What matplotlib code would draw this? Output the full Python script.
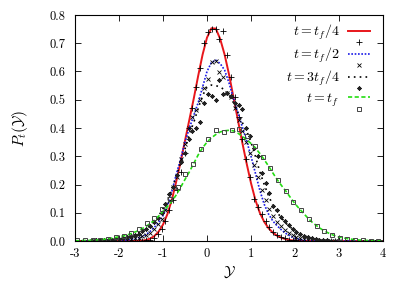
import numpy as np
import matplotlib
matplotlib.use('Agg')
from matplotlib import pyplot as plt
from matplotlib.ticker import FormatStrFormatter, MultipleLocator

plt.rcParams['font.family'] = 'cmr10'
plt.rcParams['mathtext.fontset'] = 'cm'
plt.rcParams['axes.unicode_minus'] = False
plt.rcParams['axes.formatter.use_mathtext'] = False

# x grid of the smooth curves
y_line = [-3.0, -2.9, -2.8, -2.7, -2.6, -2.5, -2.4, -2.3, -2.2, -2.1,
          -2.0, -1.9, -1.8, -1.7, -1.6, -1.5, -1.4, -1.3, -1.2, -1.1,
          -1.0, -0.9, -0.8, -0.7, -0.6, -0.5, -0.4, -0.3, -0.2, -0.1,
          0.0, 0.1, 0.2, 0.3, 0.4, 0.5, 0.6, 0.7, 0.8, 0.9,
          1.0, 1.1, 1.2, 1.3, 1.4, 1.5, 1.6, 1.7, 1.8, 1.9,
          2.0, 2.1, 2.2, 2.3, 2.4, 2.5, 2.6, 2.7, 2.8, 2.9,
          3.0, 3.1, 3.2, 3.3, 3.4, 3.5, 3.6, 3.7, 3.8, 3.9, 4.0]

p_quarter = [0, 0, 0, 0, 0, 0, 0, 0, 0, 0,
             0, 0, 0, 0, 0.0, 0.001, 0.003, 0.008, 0.017, 0.033,
             0.058, 0.095, 0.145, 0.21, 0.28, 0.355, 0.43, 0.505, 0.585, 0.66,
             0.72, 0.753, 0.752, 0.715, 0.66, 0.59, 0.51, 0.43, 0.35, 0.275,
             0.205, 0.145, 0.10, 0.068, 0.045, 0.029, 0.018, 0.011, 0.006, 0.003,
             0.001, 0, 0, 0, 0, 0, 0, 0, 0, 0,
             0, 0, 0, 0, 0, 0, 0, 0, 0, 0, 0]

p_half = [0, 0, 0, 0, 0, 0, 0.0, 0.0, 0.001, 0.001,
          0.001, 0.002, 0.004, 0.007, 0.010, 0.014, 0.021, 0.033, 0.048, 0.066,
          0.09, 0.125, 0.175, 0.235, 0.29, 0.35, 0.40, 0.445, 0.49, 0.545,
          0.60, 0.632, 0.64, 0.628, 0.605, 0.56, 0.505, 0.455, 0.405, 0.355,
          0.30, 0.24, 0.18, 0.13, 0.095, 0.07, 0.053, 0.038, 0.026, 0.017,
          0.010, 0.006, 0.003, 0.002, 0.001, 0, 0, 0, 0, 0,
          0, 0, 0, 0, 0, 0, 0, 0, 0, 0, 0]

p_3quarter = [0, 0, 0.001, 0.001, 0.002, 0.002, 0.003, 0.004, 0.005, 0.007,
              0.009, 0.011, 0.014, 0.019, 0.025, 0.033, 0.042, 0.053, 0.068, 0.088,
              0.115, 0.145, 0.18, 0.23, 0.275, 0.325, 0.38, 0.42, 0.47, 0.515,
              0.545, 0.552, 0.55, 0.545, 0.535, 0.515, 0.49, 0.455, 0.42, 0.39,
              0.35, 0.30, 0.245, 0.20, 0.16, 0.125, 0.10, 0.08, 0.062, 0.048,
              0.036, 0.027, 0.019, 0.013, 0.008, 0.005, 0.003, 0.002, 0.001, 0,
              0, 0, 0, 0, 0, 0, 0, 0, 0, 0, 0]

p_final = [0.001, 0.001, 0.002, 0.002, 0.003, 0.004, 0.005, 0.007, 0.009, 0.012,
           0.015, 0.018, 0.022, 0.028, 0.034, 0.042, 0.05, 0.061, 0.073, 0.088,
           0.105, 0.122, 0.14, 0.163, 0.19, 0.218, 0.245, 0.275, 0.305, 0.33,
           0.35, 0.365, 0.377, 0.386, 0.39, 0.392, 0.39, 0.382, 0.371, 0.359,
           0.345, 0.329, 0.31, 0.288, 0.265, 0.24, 0.216, 0.195, 0.175, 0.153,
           0.132, 0.114, 0.097, 0.08, 0.065, 0.053, 0.042, 0.033, 0.025, 0.019,
           0.014, 0.011, 0.008, 0.006, 0.004, 0.003, 0.002, 0.002, 0.001, 0.001, 0.0]

# histogram bin centres (fine bins for +, x, *)
y_fine = [-2.606, -2.519, -2.431, -2.344, -2.256, -2.169, -2.081, -1.994, -1.906, -1.819,
          -1.731, -1.644, -1.556, -1.469, -1.381, -1.294, -1.206, -1.119, -1.031, -0.944,
          -0.856, -0.769, -0.681, -0.594, -0.506, -0.419, -0.331, -0.244, -0.156, -0.069,
          0.019, 0.106, 0.194, 0.281, 0.369, 0.456, 0.544, 0.631, 0.719, 0.806,
          0.894, 0.981, 1.069, 1.156, 1.244, 1.331, 1.419, 1.506, 1.594, 1.681,
          1.769, 1.856, 1.944, 2.031, 2.119, 2.206, 2.294, 2.381, 2.469, 2.556,
          2.644, 2.731, 2.819, 2.906, 2.994]

h_quarter = [0, 0, 0, 0, 0, 0, 0, 0, 0, 0,
             0, 0, 0.0, 0.001, 0.002, 0.005, 0.012, 0.024, 0.042, 0.07,
             0.11, 0.145, 0.18, 0.245, 0.31, 0.40, 0.47, 0.545, 0.611, 0.70,
             0.741, 0.749, 0.752, 0.714, 0.745, 0.658, 0.58, 0.51, 0.44, 0.36,
             0.29, 0.225, 0.149, 0.119, 0.095, 0.07, 0.048, 0.032, 0.022, 0.014,
             0.009, 0.005, 0.003, 0.002, 0.001, 0, 0, 0, 0, 0,
             0, 0, 0, 0, 0]

h_half = [0.0, 0.0, 0.001, 0.0, 0.001, 0.001, 0.002, 0.002, 0.003, 0.005,
          0.006, 0.009, 0.012, 0.016, 0.022, 0.03, 0.042, 0.06, 0.078, 0.11,
          0.14, 0.19, 0.225, 0.29, 0.345, 0.40, 0.44, 0.465, 0.50, 0.54,
          0.575, 0.635, 0.638, 0.60, 0.58, 0.525, 0.51, 0.47, 0.43, 0.39,
          0.35, 0.31, 0.27, 0.225, 0.18, 0.145, 0.115, 0.09, 0.068, 0.052,
          0.039, 0.028, 0.02, 0.014, 0.01, 0.007, 0.005, 0.003, 0.002, 0.001,
          0, 0, 0, 0, 0]

h_3quarter = [0.001, 0.002, 0.002, 0.003, 0.004, 0.005, 0.007, 0.008, 0.01, 0.013,
              0.016, 0.021, 0.026, 0.035, 0.042, 0.052, 0.066, 0.083, 0.10, 0.13,
              0.165, 0.19, 0.235, 0.28, 0.31, 0.36, 0.39, 0.40, 0.42, 0.487,
              0.52, 0.513, 0.50, 0.57, 0.52, 0.525, 0.515, 0.49, 0.48, 0.466,
              0.40, 0.37, 0.33, 0.30, 0.24, 0.205, 0.17, 0.125, 0.11, 0.085,
              0.07, 0.056, 0.042, 0.032, 0.024, 0.018, 0.013, 0.009, 0.006, 0.004,
              0.003, 0.002, 0.001, 0.001, 0.0]

# coarse bins for the final time
y_coarse = [-2.950, -2.775, -2.599, -2.424, -2.248, -2.073, -1.897, -1.722, -1.546, -1.371,
            -1.195, -1.020, -0.844, -0.669, -0.493, -0.318, -0.142, 0.034, 0.209, 0.385,
            0.560, 0.736, 0.911, 1.087, 1.262, 1.438, 1.613, 1.789, 1.964, 2.140,
            2.315, 2.491, 2.666, 2.842, 3.017, 3.193, 3.368, 3.544, 3.719, 3.895]

h_final = [0.002, 0.002, 0.003, 0.005, 0.007, 0.013, 0.019, 0.029, 0.044, 0.063,
           0.083, 0.112, 0.148, 0.19, 0.236, 0.272, 0.325, 0.361, 0.392, 0.386,
           0.394, 0.398, 0.370, 0.336, 0.298, 0.258, 0.216, 0.178, 0.139, 0.108,
           0.077, 0.053, 0.036, 0.021, 0.012, 0.007, 0.004, 0.002, 0.001, 0.001]

fig = plt.figure(figsize=(4.02, 2.82), dpi=100)
ax = fig.add_axes([75 / 402, 1 - 241 / 282, 308 / 402, 226 / 282])

ax.plot(y_line, p_quarter, color='#e8161b', lw=1.4, label=r'$t = t_f/4$')
ax.plot(y_fine, h_quarter, ls='none', marker='+', ms=4, mew=0.6, color='black', label=' ')
ax.plot(y_line, p_half, color='#1a1ae6', lw=1.2, ls=(0, (1, 1)), label=r'$t = t_f/2$')
ax.plot(y_fine, h_half, ls='none', marker='x', ms=3.2, mew=0.6, color='black', label=' ')
ax.plot(y_line, p_3quarter, color='black', lw=1.2, ls=(0, (1, 2.5)), label=r'$t = 3t_f/4$')
ax.plot(y_fine, h_3quarter, ls='none', marker=(8, 2, 0), ms=3, mew=0.6, color='#222222',
        label=' ')
ax.plot(y_line, p_final, color='#22dd11', lw=1.2, ls=(0, (2.5, 1.5)), label=r'$t = t_f$')
ax.plot(y_coarse, h_final, ls='none', marker='s', ms=3.5, mew=0.7, mfc='none',
        mec='#444444', label=' ')

ax.set_xlim(-3, 4)
ax.set_ylim(0, 0.8)
ax.xaxis.set_major_locator(MultipleLocator(1))
ax.yaxis.set_major_locator(MultipleLocator(0.1))
ax.yaxis.set_major_formatter(FormatStrFormatter('%.1f'))
ax.tick_params(direction='in', top=True, right=True, length=4, width=0.6,
               labelsize=9, pad=7)
ax.tick_params(axis='x', pad=5)
for s in ax.spines.values():
    s.set_linewidth(0.8)

ax.set_xlabel(r'$\mathcal{Y}$', fontsize=11, labelpad=3)
ax.set_ylabel(r'$P_t(\mathcal{Y})$', fontsize=11, labelpad=14)

leg = ax.legend(loc='upper right', bbox_to_anchor=(0.958, 0.965), frameon=False,
                markerfirst=False, fontsize=10, handlelength=1.6, labelspacing=-0.33,
                borderaxespad=0, handletextpad=0.6, borderpad=0)

fig.savefig('out.png', dpi=100)
